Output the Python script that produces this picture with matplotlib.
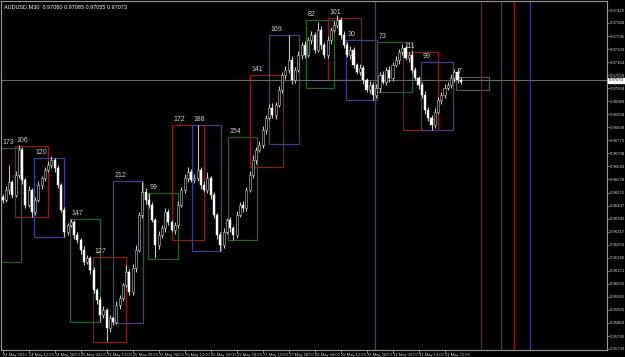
import matplotlib
matplotlib.use('Agg')
import matplotlib.pyplot as plt
from matplotlib.patches import Rectangle
import matplotlib.transforms as mtransforms
import numpy as np

plt.rcParams['font.family'] = ['Liberation Sans', 'DejaVu Sans']

# ---------------- data (prices in points of 1e-5) ----------------
first_open_pts = 96490
close_pts = [
    96475, 96525, 96565, 96500, 96600, 96725, 96575, 96450, 96525, 96415,
    96475, 96550, 96585, 96625, 96650, 96675, 96635, 96550, 96425, 96315,
    96350, 96365, 96300, 96275, 96225, 96165, 96185, 96125, 96025, 95975,
    95900, 95925, 95835, 95885, 95865, 95950, 95985, 96050, 96115, 96015,
    96135, 96225, 96400, 96515, 96475, 96450, 96375, 96250, 96300, 96335,
    96415, 96365, 96325, 96350, 96450, 96525, 96585, 96615, 96575, 96585,
    96625, 96550, 96525, 96585, 96500, 96400, 96300, 96250, 96315, 96375,
    96335, 96300, 96400, 96450, 96435, 96525, 96600, 96675, 96725, 96750,
    96825, 96885, 96935, 96900, 96950, 97025, 97100, 97125, 97175, 97075,
    97125, 97200, 97250, 97200, 97275, 97300, 97225, 97325, 97250, 97200,
    97275, 97325, 97350, 97375, 97300, 97250, 97200, 97225, 97150, 97115,
    97135, 97075, 97025, 97050, 97000, 97035, 97100, 97065, 97125, 97085,
    97150, 97175, 97215, 97235, 97185, 97200, 97125, 97085, 97050, 97000,
    96925, 96885, 96850, 96915, 96975, 97000, 97035, 97050, 97085, 97115,
    97075, 97065,
]
up_wick_pts = [
    15, 20, 85, 10, 20, 25, 15, 10, 20, 10,
    15, 20, 10, 15, 20, 20, 10, 15, 10, 15,
    10, 15, 10, 15, 10, 20, 15, 10, 15, 10,
    15, 20, 10, 15, 10, 20, 15, 10, 35, 15,
    20, 25, 15, 50, 20, 35, 15, 10, 20, 15,
    20, 15, 10, 15, 20, 15, 20, 25, 15, 20,
    225, 15, 20, 30, 10, 15, 10, 15, 20, 10,
    15, 10, 20, 15, 20, 15, 20, 25, 15, 20,
    20, 15, 20, 25, 15, 20, 15, 20, 125, 20,
    15, 20, 15, 20, 15, 20, 15, 40, 20, 15,
    20, 15, 20, 25, 15, 20, 15, 20, 15, 10,
    20, 15, 10, 20, 15, 20, 15, 20, 15, 20,
    15, 20, 15, 20, 15, 15, 20, 15, 10, 15,
    20, 15, 15, 20, 15, 15, 20, 15, 20, 15,
    20, 15,
]
dn_wick_pts = [
    15, 10, 20, 15, 10, 15, 20, 15, 10, 25,
    15, 10, 20, 15, 10, 15, 20, 15, 10, 25,
    15, 10, 20, 15, 20, 15, 10, 20, 15, 20,
    35, 15, 65, 20, 15, 10, 20, 15, 10, 15,
    15, 20, 10, 15, 20, 15, 10, 65, 20, 15,
    20, 15, 10, 20, 15, 10, 15, 20, 10, 15,
    15, 20, 10, 15, 20, 15, 20, 30, 15, 10,
    20, 25, 15, 10, 20, 15, 10, 15, 20, 10,
    15, 20, 10, 15, 20, 10, 15, 20, 15, 20,
    15, 10, 20, 15, 10, 20, 15, 10, 20, 15,
    15, 20, 10, 15, 20, 15, 10, 20, 15, 10,
    15, 20, 10, 15, 25, 15, 20, 10, 15, 20,
    15, 10, 20, 15, 10, 20, 15, 10, 20, 15,
    20, 15, 25, 15, 10, 20, 15, 10, 15, 20,
    15, 10,
]
bars_per_candle = 2   # each drawn candle spans two M30 bars

# rectangles drawn by the indicator (x in M30 bars, y in price)
box_labels = ['173', '106', '120', '147', '127', '212', '99', '172', '188', '154',
              '141', '169', '82', '101', '30', '73', '111', '99', '7']
box_x0 = [0, 8.6, 20.3, 42.5, 56.6, 68.9, 90.5, 105.2, 117.5, 139.7,
          153.2, 164.9, 187.7, 201.2, 212.3, 231.4, 247.4, 258.5, 280.0]
box_x1 = [12.3, 28.9, 38.8, 60.9, 76.9, 87.4, 108.9, 124.9, 135.4, 157.5,
          173.5, 183.4, 204.9, 221.5, 231.4, 252.9, 268.9, 278.2, 300.3]
box_top = [0.96735, 0.96745, 0.96685, 0.96380, 0.96190, 0.96570, 0.96510, 0.96850, 0.96850, 0.96790,
           0.97100, 0.97300, 0.97375, 0.97385, 0.97275, 0.97265, 0.97215, 0.97165, 0.97090]
box_bottom = [0.96165, 0.96390, 0.96290, 0.95865, 0.95765, 0.95860, 0.96180, 0.96275, 0.96220, 0.96275,
              0.96640, 0.96755, 0.97035, 0.97075, 0.96975, 0.97015, 0.96825, 0.96825, 0.97025]
box_colors = ['#2e5e2e', '#8c1c1c', '#40408c', '#2e5e2e', '#8c1c1c', '#40408c', '#2e5e2e', '#8c1c1c', '#40408c', '#2e5e2e',
              '#8c1c1c', '#40408c', '#2e5e2e', '#8c1c1c', '#40408c', '#2e5e2e', '#8c1c1c', '#40408c', '#5a5a44']

vline_x = [230.2, 295.4, 307.7, 315.7, 325.5]
vline_colors = ['#3a3a90', '#8a1a1a', '#3a3a90', '#8a1a1a', '#3a3a90']

ytick_values = [0.97425, 0.97360, 0.97295, 0.97229, 0.97164, 0.97099, 0.97034, 0.96969, 0.96904,
                0.96838, 0.96773, 0.96708, 0.96643, 0.96578, 0.96512, 0.96447, 0.96382, 0.96317,
                0.96252, 0.96186, 0.96121, 0.96056, 0.95991, 0.95926, 0.95860, 0.95795, 0.95730]
xtick_pos = [1, 17, 33, 49, 65, 81, 97, 113, 129, 145, 161, 177, 193, 209, 225, 241, 257, 273]
xtick_labels = ['24 May 2013', '24 May 12:00', '24 May 20:00', '25 May 04:00', '25 May 12:00',
                '25 May 20:00', '26 May 04:00', '26 May 12:00', '26 May 20:00', '27 May 04:00',
                '27 May 12:00', '27 May 20:00', '28 May 04:00', '28 May 12:00', '28 May 20:00',
                '31 May 05:00', '31 May 13:00', '31 May 21:00']
current_price = 0.97073
title_text = 'AUDUSD,M30  0.97060 0.97085 0.97055 0.97073'

# ---------------- figure ----------------
W, H = 625, 357
fig = plt.figure(figsize=(W / 100, H / 100), dpi=100, facecolor='black')
ax = fig.add_axes([1 / W, 7 / H, 606 / W, 349 / H], facecolor='black')

closes = np.array(close_pts) / 1e5
opens = np.concatenate([[first_open_pts], close_pts[:-1]]) / 1e5
highs = np.maximum(opens, closes) + np.array(up_wick_pts) / 1e5
lows = np.minimum(opens, closes) - np.array(dn_wick_pts) / 1e5
xs = np.arange(len(closes)) * bars_per_candle + 1

# boxes
for lab, x0, x1, t, b, c in zip(box_labels, box_x0, box_x1, box_top, box_bottom, box_colors):
    ax.add_patch(Rectangle((x0, b), x1 - x0, t - b, fill=False, edgecolor=c, lw=0.9, zorder=1))
    ax.annotate(lab, (x0, t), xytext=(1, 1.5), textcoords='offset points',
                color='#d0d0d0', fontsize=5, va='bottom', ha='left', zorder=5)

# vertical lines
for vx, vc in zip(vline_x, vline_colors):
    ax.axvline(vx, color=vc, lw=0.9, zorder=1)

# current price line
ax.axhline(current_price, color='#6a6a6a', lw=0.8, zorder=1)

# candles
ax.vlines(xs, lows, highs, color='#c8c8c8', lw=0.8, zorder=3)
bull = closes >= opens
body_h = np.abs(closes - opens)
body_h = np.where(body_h < 1e-5, 1e-5, body_h)
ax.bar(xs[~bull], body_h[~bull], bottom=np.minimum(opens, closes)[~bull], width=1.3,
       color='#ffffff', edgecolor='#ffffff', lw=0.3, zorder=4)
ax.bar(xs[bull], body_h[bull], bottom=np.minimum(opens, closes)[bull], width=1.3,
       color='#000000', edgecolor='#c8c8c8', lw=0.4, zorder=4)

ax.set_xlim(0, 373)
ax.set_ylim(0.95725, 0.97470)

for s in ax.spines.values():
    s.set_color('#9a9a9a')
    s.set_linewidth(0.8)

ax.yaxis.tick_right()
ax.set_yticks(ytick_values)
ax.set_yticklabels(['%.5f' % v for v in ytick_values])
ax.tick_params(axis='y', colors='#9a9a9a', labelcolor='#d0d0d0', labelsize=3.1,
               length=1.5, width=0.6, pad=0.6)
ax.set_xticks(xtick_pos)
ax.set_xticklabels(xtick_labels)
ax.tick_params(axis='x', colors='#9a9a9a', labelcolor='#d0d0d0', labelsize=3.0,
               length=2, width=0.6, pad=0.3)
for t in ax.get_xticklabels():
    t.set_ha('left')

# current price tag
trans = mtransforms.blended_transform_factory(ax.transAxes, ax.transData)
ax.text(1.003, current_price, '%.5f' % current_price, transform=trans, fontsize=3.1,
        color='black', va='center', ha='left', zorder=10,
        bbox=dict(boxstyle='square,pad=0.15', fc='white', ec='white'))

# title
ax.text(0.005, 0.99, title_text, transform=ax.transAxes, fontsize=4.0, color='white',
        va='top', ha='left')

fig.savefig('out.png', dpi=100, facecolor='black')
